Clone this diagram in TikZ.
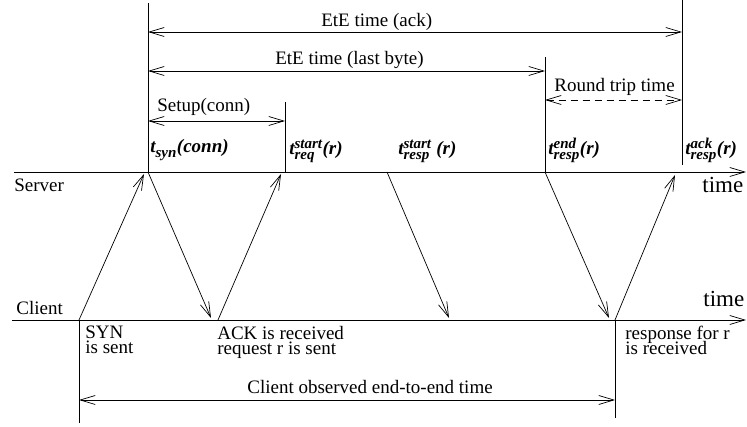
\documentclass[tikz,border=0pt]{standalone}
\usepackage{fontspec}
\setmainfont{Liberation Serif}
\usepackage{amsmath}
\usetikzlibrary{positioning,arrows.meta}
\newcommand{\tsmall}[1]{\mbox{\fontsize{15}{15}\selectfont\bfseries\itshape #1}}
\newcommand{\tlab}[3]{{\bfseries\itshape t$^{\tsmall{#1}}_{\tsmall{#2}}$#3}}
\tikzset{
  tip/.tip={Straight Barb[length=15pt,width=9pt]},
  msg/.style={-tip},
  span/.style={tip-tip},
  rtt/.style={tip-tip, dash pattern=on 7pt off 5pt},
  lbl/.style={font=\fontsize{19}{20}\selectfont, inner sep=0pt, anchor=base west},
  axis/.style={font=\fontsize{23}{24}\selectfont, inner sep=0pt, anchor=base west},
  note/.style={lbl, align=left, anchor=north west},
}

\begin{document}
\begin{tikzpicture}[x=1pt, y=-1pt, line width=0.7pt] % timeline of one request
\useasboundingbox (0,0) rectangle (747,427);

% server and client time lines
\coordinate (sL) at (14,172);
\coordinate (sR) at (746,172);
\coordinate (cL) at (12,320);
\coordinate (cR) at (746,320);
\draw[msg] (sL) -- (sR);
\draw[msg] (cL) -- (cR);
\node[lbl] (server) at (14,192) {Server};
\node[lbl] (client) at (16,315) {Client};
\node[axis] (stime) at (702,193) {time};
\node[axis] (ctime) at (703,307) {time};

% events on the time lines
\coordinate (syn) at (148,172);
\coordinate (req) at (285,172);
\coordinate (rstart) at (387,172);
\coordinate (rend) at (545,172);
\coordinate (rack) at (682,165);
\coordinate (csyn) at (79,320);
\coordinate (cack) at (218,320);
\coordinate (cresp) at (615,320);

% vertical marks
\draw (syn) -- (148,3);
\draw (req) -- (285,102);
\draw (rend) -- (545,57);
\draw (rack) -- (682,0);
\draw (csyn) -- (79,423);
\draw (cresp) -- (615,418);

% packets
\coordinate (synin) at (144,174);
\coordinate (ackin) at (211,318);
\coordinate (reqin) at (281,174);
\coordinate (firstin) at (449,318);
\coordinate (lastin) at (609,318);
\coordinate (ackrin) at (675,175);
\draw[msg] (csyn) -- (synin);
\draw[msg] (syn) -- (ackin);
\draw[msg] (cack) -- (reqin);
\draw[msg] (rstart) -- (firstin);
\draw[msg] (rend) -- (lastin);
\draw[msg] (cresp) -- (ackrin);

% intervals
\draw[span] (syn |- 0,32) -- (rack |- 0,32);
\node[lbl] (ete1) at (321,27) {EtE time (ack)};
\draw[span] (syn |- 0,71) -- (rend |- 0,71);
\node[lbl] (ete2) at (275,65) {EtE time (last byte)};
\draw[span] (syn |- 0,121) -- (req |- 0,121);
\node[lbl] (setup) at (157,112) {Setup(conn)};
\draw[rtt] (rend |- 0,100) -- (rack |- 0,100);
\node[lbl] (round) at (554,92) {Round trip time};
\draw[span] (csyn |- 0,400) -- (cresp |- 0,400);
\node[lbl] (cete) at (247,394) {Client observed end-to-end time};

% server time stamps
\node[lbl] (tsyn) at (150,153) {\tlab{}{syn}{(conn)}};
\node[lbl] (treq) at (289,155) {\tlab{start}{req}{(r)}};
\node[lbl] (trs) at (398,155) {\tlab{start}{resp}{ (r)}};
\node[lbl] (tre) at (548,155) {\tlab{end}{resp}{(r)}};
\node[lbl] (tra) at (685,155) {\tlab{ack}{resp}{(r)}};

% client notes
\node[note] (synsent) at (85,326) {SYN\\[-5pt]is sent};
\node[note] (acksent) at (217,326) {ACK is received\\[-5pt]request r is sent};
\node[note] (respgot) at (625,326) {response for r\\[-5pt]is received};
\end{tikzpicture}
\end{document}
